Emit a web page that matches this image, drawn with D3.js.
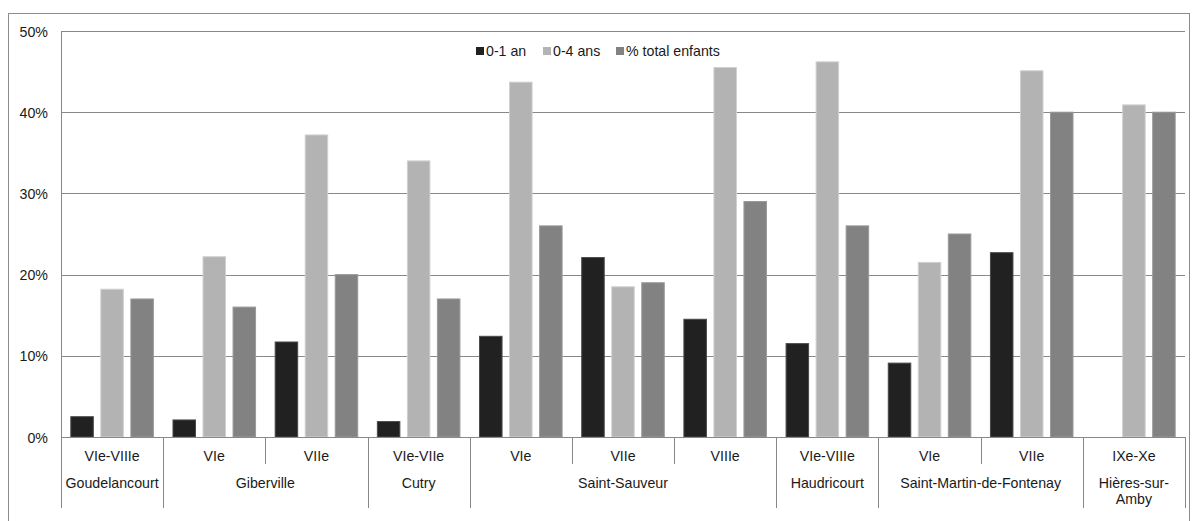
<!DOCTYPE html>
<html>
<head>
<meta charset="utf-8">
<script src="https://cdn.jsdelivr.net/npm/d3@7"></script>
<style>
  html, body { margin: 0; padding: 0; background: #fff; }
  svg { display: block; font-family: "Liberation Sans", Arial, sans-serif; }
</style>
</head>
<body>
<svg id="chart" width="1192" height="521"></svg>
<script>
// ---- data ----
const periods = ["VIe-VIIIe", "VIe", "VIIe", "VIe-VIIe", "VIe", "VIIe", "VIIIe", "VIe-VIIIe", "VIe", "VIIe", "IXe-Xe"];
const sites = ["Goudelancourt", "Giberville", "Giberville", "Cutry", "Saint-Sauveur", "Saint-Sauveur", "Saint-Sauveur", "Haudricourt", "Saint-Martin-de-Fontenay", "Saint-Martin-de-Fontenay", "Hières-sur-Amby"];
const seriesNames = ["0-1 an", "0-4 ans", "% total enfants"];
const age01 = [2.5, 2.1, 11.7, 1.9, 12.4, 22.1, 14.5, 11.5, 9.1, 22.7, null];
const age04 = [18.2, 22.2, 37.2, 34.0, 43.7, 18.5, 45.5, 46.2, 21.5, 45.1, 40.9];
const totalEnfants = [17, 16, 20, 17, 26, 19, 29, 26, 25, 40, 40];
const yTicks = [0, 10, 20, 30, 40, 50];
const seriesColors = ["#212121", "#b3b3b3", "#828282"];
const seriesStrokes = ["#4a4a4a", "#d0d0d0", "#9a9a9a"];

(function () {
// ---- layout ----
const svg = d3.select("#chart");
const pLeft = 61, pRight = 1185, pTop = 31, pBottom = 437;
const gridColor = "#888888";
const fontSize = "14.2px";

// outer border
svg.append("rect")
  .attr("x", 8.5).attr("y", 13.5)
  .attr("width", 1181).attr("height", 520)
  .attr("fill", "none").attr("stroke", "#8c8c8c").attr("stroke-width", 1);

const idx = d3.range(periods.length);
const x0 = d3.scaleBand().domain(idx).range([pLeft, pRight]).padding(0);
const x1 = d3.scaleBand().domain(d3.range(3)).range([0, x0.bandwidth()])
  .paddingInner(0.217).paddingOuter(0.31);
const y = d3.scaleLinear().domain([0, 50]).range([pBottom, pTop]);

// gridlines
svg.append("g").selectAll("line").data(yTicks).join("line")
  .attr("x1", pLeft).attr("x2", pRight)
  .attr("y1", d => Math.round(y(d)) + 0.5).attr("y2", d => Math.round(y(d)) + 0.5)
  .attr("stroke", gridColor).attr("stroke-width", 1);

// y axis labels via d3 axis
const yAxis = d3.axisLeft(y).tickValues(yTicks).tickFormat(d => d + "%").tickSize(0).tickPadding(13);
const yg = svg.append("g").attr("transform", `translate(${pLeft},0.5)`).call(yAxis);
yg.select(".domain").remove();
yg.selectAll("text").attr("font-size", fontSize).attr("fill", "#1a1a1a")
  .attr("font-family", "'Liberation Sans', Arial, sans-serif");

// left axis line
svg.append("line")
  .attr("x1", pLeft + 0.5).attr("x2", pLeft + 0.5).attr("y1", pTop).attr("y2", 508)
  .attr("stroke", gridColor);

// bars
const allSeries = [age01, age04, totalEnfants];
allSeries.forEach((vals, s) => {
  svg.append("g").selectAll("rect").data(idx.filter(i => vals[i] != null)).join("rect")
    .attr("x", i => x0(i) + x1(s) + 0.5)
    .attr("width", x1.bandwidth() - 1)
    .attr("y", i => y(vals[i]))
    .attr("height", i => y(0) - y(vals[i]))
    .attr("fill", seriesColors[s])
    .attr("stroke", seriesStrokes[s]).attr("stroke-width", 1);
});

// baseline
svg.append("line")
  .attr("x1", pLeft).attr("x2", pRight).attr("y1", pBottom + 0.5).attr("y2", pBottom + 0.5)
  .attr("stroke", gridColor);

// separators
for (let i = 1; i <= periods.length; i++) {
  const xb = i === periods.length ? pRight : x0(i);
  const groupBoundary = i === periods.length || sites[i] !== sites[i - 1];
  svg.append("line")
    .attr("x1", Math.round(xb) + 0.5).attr("x2", Math.round(xb) + 0.5)
    .attr("y1", pBottom).attr("y2", groupBoundary ? 508 : 464)
    .attr("stroke", gridColor);
}

// period labels
svg.append("g").selectAll("text").data(idx).join("text")
  .attr("x", i => x0(i) + x0.bandwidth() / 2)
  .attr("y", 461)
  .attr("text-anchor", "middle")
  .attr("font-size", fontSize).attr("fill", "#1a1a1a")
  .text(i => periods[i]);

// site labels
const groups = [];
idx.forEach(i => {
  const g = groups[groups.length - 1];
  if (g && g.name === sites[i]) g.end = i; else groups.push({ name: sites[i], start: i, end: i });
});
groups.forEach(g => {
  const cx = (x0(g.start) + x0(g.end) + x0.bandwidth()) / 2;
  const t = svg.append("text").attr("text-anchor", "middle")
    .attr("font-size", fontSize).attr("fill", "#1a1a1a");
  if (g.name === "Hières-sur-Amby") {
    t.append("tspan").attr("x", cx).attr("y", 488).text("Hières-sur-");
    t.append("tspan").attr("x", cx).attr("y", 504).text("Amby");
  } else {
    t.attr("x", cx).attr("y", 488).text(g.name);
  }
});

// legend
const legendX = [476, 543, 616];
const lg = svg.append("g");
seriesNames.forEach((name, s) => {
  lg.append("rect").attr("x", legendX[s]).attr("y", 47).attr("width", 8).attr("height", 8)
    .attr("fill", seriesColors[s]);
  lg.append("text").attr("x", legendX[s] + 10).attr("y", 56)
    .attr("font-size", fontSize).attr("fill", "#1a1a1a").text(name);
});
})();
</script>
</body>
</html>
